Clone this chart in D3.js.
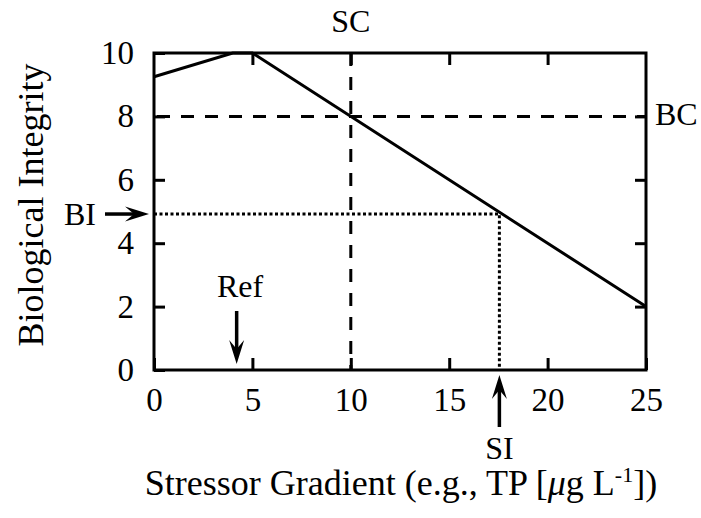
<!DOCTYPE html>
<html><head><meta charset="utf-8">
<script src="https://cdn.jsdelivr.net/npm/d3@7"></script>
<style>
body{margin:0;background:#fff;}
text{font-family:"Liberation Serif","Times New Roman",serif;fill:#000;}
</style></head>
<body><svg id="c" width="701" height="518"></svg>
<script>
// Data
const curveX = [0, 4, 5, 25];
const curveY = [9.25, 10, 10, 2];
const xTicks = [0, 5, 10, 15, 20, 25];
const yTicks = [0, 2, 4, 6, 8, 10];
const scValue = 10;   // stressor criterion
const bcValue = 8;    // biological criterion
const biValue = 4.92; // biological integrity
const siValue = 17.55; // stressor indicator
const refValue = 4.2; // reference
const xTitle = "Stressor Gradient (e.g., TP [";
const yTitle = "Biological Integrity";

const svg = d3.select("#c");
const x = d3.scaleLinear().domain([0, 25]).range([154, 646]);
const y = d3.scaleLinear().domain([0, 10]).range([370, 53]);
const SW = 3;

// axes
function styleAxis(g, fs){
  g.select(".domain").remove();
  g.selectAll(".tick line").attr("stroke", "#000").attr("stroke-width", SW);
  g.selectAll(".tick text").style("font-family", '"Liberation Serif",serif').style("font-size", fs + "px").attr("fill", "#000");
}
svg.append("g").attr("transform", `translate(0,${y(0)})`)
  .call(d3.axisBottom(x).tickValues(xTicks).tickFormat(d3.format("d")).tickSizeInner(-12).tickSizeOuter(0).tickPadding(18))
  .call(g => styleAxis(g, 33));
svg.append("g").attr("transform", `translate(${x(0)},0)`)
  .call(d3.axisLeft(y).tickValues(yTicks).tickFormat(d3.format("d")).tickSizeInner(-11).tickSizeOuter(0).tickPadding(20))
  .call(g => styleAxis(g, 33));
svg.append("g").attr("transform", `translate(0,${y(10)})`)
  .call(d3.axisTop(x).tickValues(xTicks.slice(1, -1)).tickFormat("").tickSizeInner(-12).tickSizeOuter(0))
  .call(g => styleAxis(g, 33));
svg.append("g").attr("transform", `translate(${x(25)},0)`)
  .call(d3.axisRight(y).tickValues(yTicks.slice(1, -1)).tickFormat("").tickSizeInner(-11).tickSizeOuter(0))
  .call(g => styleAxis(g, 33));

// frame
svg.append("rect").attr("x", x(0)).attr("y", y(10)).attr("width", x(25) - x(0)).attr("height", y(0) - y(10))
  .attr("fill", "none").attr("stroke", "#000").attr("stroke-width", SW);

// dashed criteria lines
svg.append("line").attr("x1", x(scValue)).attr("x2", x(scValue)).attr("y1", y(10)).attr("y2", y(0))
  .attr("stroke", "#000").attr("stroke-width", SW).attr("stroke-dasharray", "13,11");
svg.append("line").attr("x1", x(0)).attr("x2", x(25)).attr("y1", y(bcValue)).attr("y2", y(bcValue))
  .attr("stroke", "#000").attr("stroke-width", SW).attr("stroke-dasharray", "13,11").attr("stroke-dashoffset", -3);

// dotted BI / SI lines
svg.append("path").attr("d", `M${x(0)},${y(biValue)}H${x(siValue)}V${y(0)}`)
  .attr("fill", "none").attr("stroke", "#000").attr("stroke-width", SW).attr("stroke-dasharray", "3,2.5");

// curve
const pts = curveX.map((d, i) => [d, curveY[i]]);
svg.append("path").attr("d", d3.line().x(d => x(d[0])).y(d => y(d[1]))(pts))
  .attr("fill", "none").attr("stroke", "#000").attr("stroke-width", SW).attr("stroke-linejoin", "miter");

// arrows
function arrow(x1, y1, x2, y2){
  const ang = Math.atan2(y2 - y1, x2 - x1);
  const L = 24, W = 7.5, N = 15;
  const g = svg.append("g").attr("transform", `translate(${x2},${y2}) rotate(${ang * 180 / Math.PI})`);
  const len = Math.hypot(x2 - x1, y2 - y1);
  g.append("line").attr("x1", -len).attr("x2", -N).attr("y1", 0).attr("y2", 0).attr("stroke", "#000").attr("stroke-width", 3.5);
  g.append("path").attr("d", `M0,0L${-L},${-W}L${-N},0L${-L},${W}Z`).attr("fill", "#000");
}
arrow(105, y(biValue), x(0) - 5, y(biValue));
arrow(x(refValue), 311, x(refValue), y(0) - 6);
arrow(x(siValue), 427, x(siValue), y(0) + 5);

// labels
const LS = "32px";
svg.append("text").attr("x", x(scValue)).attr("y", 32).attr("text-anchor", "middle").style("font-size", LS).text("SC");
svg.append("text").attr("x", 655).attr("y", y(bcValue) + 9).style("font-size", LS).text("BC");
svg.append("text").attr("x", 80).attr("y", y(biValue) + 11).attr("text-anchor", "middle").style("font-size", LS).text("BI");
svg.append("text").attr("x", 240).attr("y", 297).attr("text-anchor", "middle").style("font-size", LS).text("Ref");
svg.append("text").attr("x", x(siValue)).attr("y", 459).attr("text-anchor", "middle").style("font-size", LS).text("SI");

// axis titles
const xt = svg.append("text").attr("x", 401).attr("y", 495).attr("text-anchor", "middle").style("font-size", "36px");
xt.append("tspan").text(xTitle);
xt.append("tspan").style("font-style", "italic").text("μ");
xt.append("tspan").text("g L");
xt.append("tspan").attr("dy", -13).style("font-size", "22px").text("-1");
xt.append("tspan").attr("dy", 13).text("])");

svg.append("text").attr("transform", `translate(43,205) rotate(-90)`).attr("text-anchor", "middle")
  .style("font-size", "36px").text(yTitle);
</script>
</body></html>
